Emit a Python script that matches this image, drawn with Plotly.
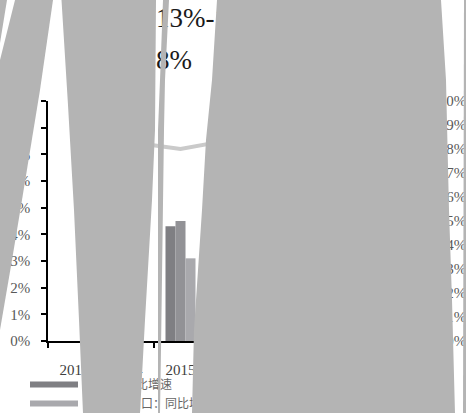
import plotly.graph_objects as go

# ---- data -------------------------------------------------------------
years = ["2013", "2014", "2015", "2016", "2017", "2018", "2019"]
gdp_growth = [None, 4.6, 4.3, 4.4, 4.8, 4.7, 4.5]        # 同比增速 (left axis, %)
import_growth = [None, 4.9, 4.5, 4.2, 4.6, 4.4, 4.3]     # 进口：同比增速 (left axis, %)
export_growth = [None, 3.4, 3.1, 3.3, 3.9, 3.6, 3.5]     # 出口：同比增速 (left axis, %)
trade_share = [None, 8.3, 8.0, 8.4, 8.6, 8.5, 8.7]       # 占比 (right axis, %)

left_ticks = list(range(0, 10))
right_ticks = list(range(0, 11))
left_labels = [f"{v}%" for v in left_ticks]
# right-hand labels padded with a figure space so they line up on the right
right_labels = [f"{v}%".rjust(3, "\u2007") for v in right_ticks]

series_names = ["全球：同比增速", "进口：同比增速", "全球出口：同比增速", "贸易占比"]
bar_colors = ["#7f7f83", "#929296", "#a9a9ad"]
line_color = "#cacaca"

headline_1 = "13%-15%"
headline_2 = "8%"

# ---- page geometry (pixels) -------------------------------------------
W, H = 466, 413
L, R, T, B = 48, 419, 101, 341


def paper(x, y):
    return x / W, 1 - y / H


def path(points):
    pts = [paper(x, y) for x, y in points]
    return "M " + " L ".join(f"{a:.5f},{b:.5f}" for a, b in pts) + " Z"


fig = go.Figure()

for name, vals, col in zip(series_names[:3], [gdp_growth, import_growth, export_growth], bar_colors):
    fig.add_bar(x=years, y=vals, name=name, marker=dict(color=col, line=dict(width=0)))

fig.add_scatter(x=years, y=trade_share, name=series_names[3], yaxis="y2",
                mode="lines", line=dict(color=line_color, width=4))

serif = "Liberation Serif, Noto Sans CJK SC"
cjk = "Noto Sans CJK SC, Liberation Serif"


# free text lives on a full-page pixel overlay (x3/y3)
def text_trace(x, y, s, size, color, pos, family):
    fig.add_scatter(x=[x], y=[y], text=[s], mode="text", textposition=pos,
                    textfont=dict(family=family, size=size, color=color),
                    xaxis="x3", yaxis="y3", cliponaxis=False, hoverinfo="skip",
                    showlegend=False)


# headline
text_trace(156, 20, headline_1, 27, "#1a1a1a", "middle right", serif)
text_trace(156, 62, headline_2, 27, "#1a1a1a", "middle right", serif)

# legend
legend_rows = [
    (30, 384.5, bar_colors[0], series_names[0], 88),
    (30, 403.5, bar_colors[2], series_names[2], 105),
    (250, 384.5, bar_colors[1], series_names[1], 308),
    (250, 403.5, line_color, series_names[3], 308),
]
shapes = []
for sx, sy, col, label, tx in legend_rows:
    x0, y0 = paper(sx, sy + 3)
    x1, y1 = paper(sx + 48, sy - 3)
    shapes.append(dict(type="rect", xref="paper", yref="paper", x0=x0, x1=x1, y0=y0, y1=y1,
                       fillcolor=col, line=dict(width=0), layer="above"))
    text_trace(tx, sy + 1, label, 12, "#666666", "middle right", cjk)

# masking panels
mask = "#b4b4b4"
panels = [
    [(0, 0), (7, 0), (0, 43)],
    [(15, 0), (53, 0), (40, 90), (22, 200), (12, 260), (0, 330), (0, 60)],
    [(61.5, 0), (156, 0), (155, 130), (152, 200), (145, 320), (140, 413),
     (83, 413), (79, 320), (74, 210), (68, 105)],
    [(163, 0), (169, 0), (165, 80), (164, 130), (161, 350), (160, 413), (158, 413),
     (158, 350), (158, 130), (160, 80)],
    [(217, 0), (441, 0), (446, 80), (449, 210), (452, 300), (455, 413), (192, 413),
     (194, 330), (202, 210), (206, 140), (212, 80)],
    [(464, 0), (467, 0), (467, 414), (463, 414)],
]
for pts in panels:
    shapes.append(dict(type="path", xref="paper", yref="paper", path=path(pts),
                       fillcolor=mask, line=dict(width=0), layer="above"))

axis_font = dict(family=serif, size=15, color="#595959")

fig.update_layout(
    width=W, height=H, autosize=False,
    margin=dict(l=0, r=0, t=0, b=0, pad=0, autoexpand=False),
    paper_bgcolor="white", plot_bgcolor="rgba(0,0,0,0)",
    showlegend=False, barmode="group", bargap=0.434, bargroupgap=0,
    shapes=shapes,
    xaxis=dict(domain=[L / W, R / W], anchor="y", automargin=False,
               type="category", categoryorder="array", categoryarray=years,
               range=[-0.5, 6.5], showline=True, linecolor="black", linewidth=2,
               ticks="outside", ticklen=5, tickwidth=1.5, tickcolor="black",
               tickson="boundaries", showgrid=False, zeroline=False,
               tickfont=dict(family=serif, size=15, color="#404040"),
               ticklabelstandoff=14, fixedrange=True),
    yaxis=dict(domain=[1 - B / H, 1 - T / H], anchor="x", automargin=False,
               range=[0, 9], tickmode="array", tickvals=left_ticks, ticktext=left_labels,
               showline=True, linecolor="black", linewidth=1.5,
               ticks="outside", ticklen=5, tickwidth=1.5, tickcolor="black",
               showgrid=False, zeroline=False, tickfont=axis_font,
               ticklabelstandoff=8, fixedrange=True),
    yaxis2=dict(range=[0, 10], tickmode="array", tickvals=right_ticks, ticktext=right_labels,
                overlaying="y", anchor="x", side="right", automargin=False,
                showline=True, linecolor="black",
                linewidth=1.5, ticks="outside", ticklen=5, tickcolor="black",
                showgrid=False, zeroline=False, tickfont=axis_font,
                ticklabelstandoff=10, fixedrange=True),
    xaxis3=dict(domain=[0, 1], range=[0, W], anchor="y3", visible=False,
                automargin=False, fixedrange=True),
    yaxis3=dict(domain=[0, 1], range=[H, 0], anchor="x3", visible=False,
                automargin=False, fixedrange=True),
)

fig.write_html("out.html")
